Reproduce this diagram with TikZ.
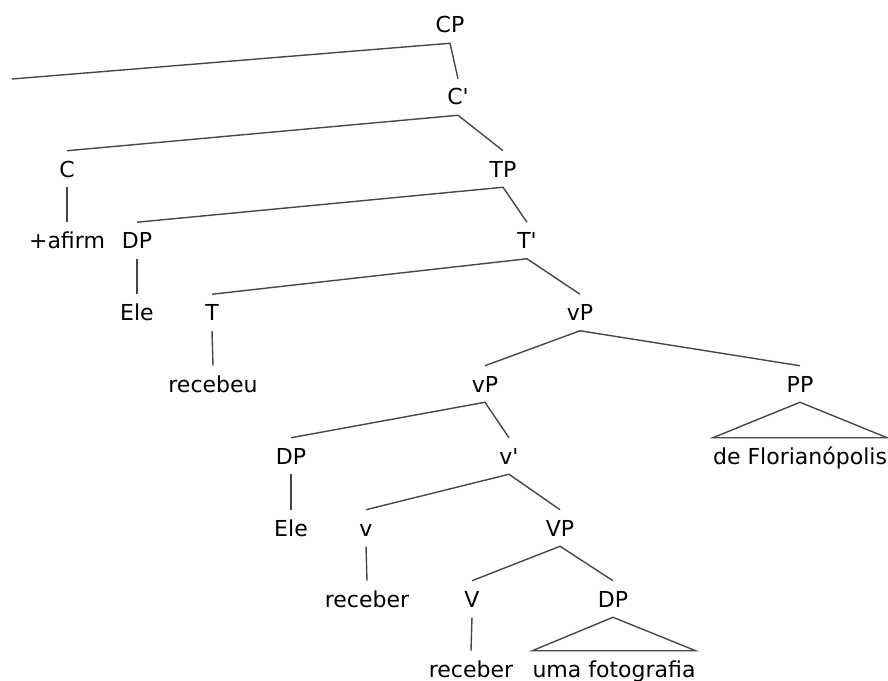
\documentclass[tikz,border=0pt]{standalone}
\usepackage{fontspec}
\setmainfont{DejaVu Sans}[Ligatures=TeXOff]
\begin{document}
\begin{tikzpicture}[x=0.75pt,y=-0.75pt,
  lab/.style={font=\fontsize{16.5}{20}\selectfont, inner xsep=0pt, inner ysep=7.5pt,
    text height=12pt, text depth=0pt, anchor=center},
  edge/.style={draw=black!72, line width=1.05pt}]
\useasboundingbox (0,0) rectangle (888,681);
% row y positions
\def\ra{25}\def\rb{97}\def\rc{169}\def\rd{240.5}\def\re{312.5}
\def\rf{384}\def\rg{456}\def\rh{528}\def\ri{599}\def\rj{669}
\node[lab] (CP) at (450,\ra) {CP};
\coordinate (spec) at (12,79);
\node[lab] (Cbar) at (458,\rb) {C'};
\node[lab] (C) at (67,\rc) {C};
\node[lab] (TP) at (503,\rc) {TP};
\node[lab] (afirm) at (67,\rd) {+afirm};
\node[lab] (DPa) at (137,\rd) {DP};
\node[lab] (Tbar) at (527,\rd) {T'};
\node[lab] (Elea) at (137,\re) {Ele};
\node[lab] (T) at (212,\re) {T};
\node[lab] (vPa) at (580,\re) {vP};
\node[lab] (recebeu) at (213,\rf) {recebeu};
\node[lab] (vPb) at (485,\rf) {vP};
\node[lab] (PP) at (800,\rf) {PP};
\node[lab] (DPb) at (291,\rg) {DP};
\node[lab] (vbar) at (509,\rg) {v'};
\node[lab] (Flor) at (800,\rg) {de Florianópolis};
\node[lab] (Eleb) at (291,\rh) {Ele};
\node[lab] (v) at (366,\rh) {v};
\node[lab] (VP) at (560,\rh) {VP};
\node[lab] (recebera) at (367,\ri) {receber};
\node[lab] (V) at (472,\ri) {V};
\node[lab] (DPc) at (613,\ri) {DP};
\node[lab] (receberb) at (471,\rj) {receber};
\node[lab] (uma) at (614,\rj) {uma fotografia};

\draw[edge] (spec) -- (CP.south) -- (Cbar.north);
\draw[edge] (C.north) -- (Cbar.south) -- (TP.north);
\draw[edge] (C.south) -- (afirm.north);
\draw[edge] (DPa.north) -- (TP.south) -- (Tbar.north);
\draw[edge] (DPa.south) -- (Elea.north);
\draw[edge] (T.north) -- (Tbar.south) -- (vPa.north);
\draw[edge] (T.south) -- (recebeu.north);
\draw[edge] (vPb.north) -- (vPa.south) -- (PP.north);
\draw[edge] (DPb.north) -- (vPb.south) -- (vbar.north);
\draw[edge] (Flor.north west) -- (PP.south) -- (Flor.north east) -- cycle;
\draw[edge] (DPb.south) -- (Eleb.north);
\draw[edge] (v.north) -- (vbar.south) -- (VP.north);
\draw[edge] (v.south) -- (recebera.north);
\draw[edge] (V.north) -- (VP.south) -- (DPc.north);
\draw[edge] (V.south) -- (receberb.north);
\draw[edge] (uma.north west) -- (DPc.south) -- (uma.north east) -- cycle;
\end{tikzpicture}
\end{document}
